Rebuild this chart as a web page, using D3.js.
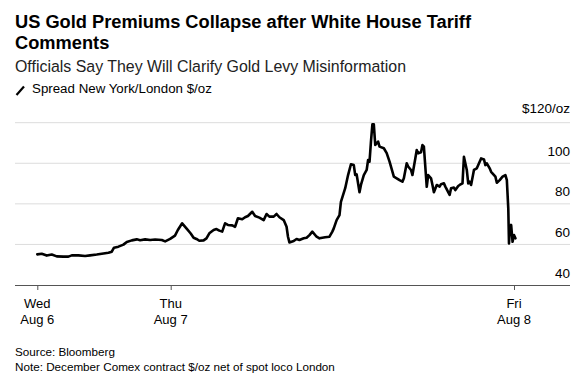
<!DOCTYPE html>
<html>
<head>
<meta charset="utf-8">
<script src="https://cdn.jsdelivr.net/npm/d3@7/dist/d3.min.js"></script>
<style>
  html, body { margin: 0; padding: 0; background: #fff; }
  svg { display: block; }
  text { font-family: "Liberation Sans", Arial, sans-serif; }
</style>
</head>
<body>
<svg id="chart" width="588" height="387"></svg>
<script>
// ---- Data (hours since Wed Aug 6 00:00, spread $/oz) ----
const hours = [0,0.8,1.7,2.6,3.5,4.7,5.6,6.2,7.4,8.6,9.5,10.7,11.6,12.8,13.4,13.8,14.6,15.5,16.1,17.0,17.9,18.5,19.4,20.3,21.2,22.4,23.0,23.9,
  24.3,24.5,24.8,25.1,25.4,25.6,25.8,26.0,26.3,26.5,26.7,27.0,27.2,27.4,27.6,27.8,28.0,28.3,28.5,28.7,29.0,29.2,29.4,29.7,29.9,30.2,30.5,30.7,30.9,31.2,31.4,31.6,31.9,32.1,32.2,32.3,32.6,32.8,33.0,33.3,33.5,33.7,33.9,34.2,34.4,34.8,35.1,35.3,35.4,35.6,35.8,35.9,36.2,36.4,36.6,36.8,36.9,37.0,37.2,37.3,37.5,37.7,37.8,37.9,38.0,38.1,38.2,38.3,38.5,38.6,38.9,39.1,39.3,39.6,39.8,40.0,40.2,40.3,40.5,40.6,40.8,40.9,41.1,41.2,41.3,41.5,41.6,41.7,41.9,42.0,42.2,42.3,42.4,42.6,42.8,42.9,43.1,43.2,43.5,43.6,43.8,43.9,44.1,44.2,44.4,44.5,44.7,44.8,44.9,45.0,45.2,45.4,45.6,45.7,45.9,46.0,46.1,46.3,46.4,46.7,46.8,47.0,47.2,47.4,47.5,47.6,47.65,47.7,47.8,47.9,48.0,48.1];
const spread = [55.1,55.4,54.5,55.0,54.1,54.0,54.0,54.6,54.6,54.3,54.6,55.0,55.4,55.9,56.4,58.4,58.9,59.9,61.2,62.0,62.5,62.1,62.5,62.2,62.4,62.2,61.5,62.7,
  64.3,67.1,70.4,67.9,65.4,63.3,62.7,61.8,62.0,63.0,65.5,67.1,67.6,66.8,66.3,70.4,69.6,69.4,68.7,72.9,72.4,73.4,74.0,76.1,74.0,73.2,72.0,75.0,73.7,73.7,75.0,73.4,72.0,68.7,63.8,61.0,61.7,62.7,62.2,63.0,63.3,64.6,66.3,63.8,63.0,63.5,63.8,66.3,67.9,72.0,74.4,81.0,87.7,94.2,99.5,99.1,94.2,94.5,85.7,89.3,94.2,96.7,101.6,100.8,110.7,119.2,119.2,109.0,110.7,108.2,107.4,105.0,100.8,93.4,92.6,91.7,90.9,92.6,100.0,98.4,96.7,94.2,102.4,106.5,104.9,105.4,109.0,108.2,88.4,94.2,92.6,89.3,85.7,89.3,88.5,89.7,90.1,88.5,84.4,87.7,88.0,86.8,88.8,89.3,90.1,103.2,96.7,90.1,90.9,89.3,96.7,97.5,100.8,102.4,101.9,99.1,100.0,97.5,95.8,93.4,90.4,91.7,93.4,94.2,91.7,77.8,60.5,67.1,69.6,61.3,64.6,63.0];

const xTickHours = [0, 24, 48];
const xTickDays = ["Wed", "Thu", "Fri"];
const xTickDates = ["Aug 6", "Aug 7", "Aug 8"];
const yTicks = [40, 60, 80, 100, 120];

const title1 = "US Gold Premiums Collapse after White House Tariff";
const title2 = "Comments";
const subtitle = "Officials Say They Will Clarify Gold Levy Misinformation";
const legendLabel = "Spread New York/London $/oz";
const sourceText = "Source: Bloomberg";
const noteText = "Note: December Comex contract $/oz net of spot loco London";

// ---- Layout ----
const svg = d3.select("#chart");
const plotLeft = 15, plotRight = 570;

// Polylinear x scale (trading-time compressed axis)
const x = d3.scaleLinear().domain([0, 24, 48]).range([37.3, 170.7, 514]);
const y = d3.scaleLinear().domain([40, 120]).range([285, 122.7]);

// fit text helper
function fit(sel, targetW) {
  const w = sel.node().getComputedTextLength();
  const fs = parseFloat(sel.attr("font-size"));
  sel.attr("font-size", (fs * targetW / w).toFixed(2));
}

// Title
const t1 = svg.append("text").attr("x", 15).attr("y", 27.7)
  .attr("font-size", 17).attr("font-weight", "bold").attr("fill", "#000").text(title1);
fit(t1, 456);
svg.append("text").attr("x", 15).attr("y", 48.5)
  .attr("font-size", t1.attr("font-size")).attr("font-weight", "bold").attr("fill", "#000").text(title2);

const st = svg.append("text").attr("x", 15).attr("y", 71.7)
  .attr("font-size", 15).attr("fill", "#222").text(subtitle);
fit(st, 391);

// Legend
svg.append("line").attr("x1", 16.5).attr("y1", 95).attr("x2", 24).attr("y2", 86.5)
  .attr("stroke", "#000").attr("stroke-width", 2.2);
const lg = svg.append("text").attr("x", 32).attr("y", 93.3)
  .attr("font-size", 13).attr("fill", "#000").text(legendLabel);
fit(lg, 180);

// Gridlines
const gridVals = yTicks.filter(v => v !== 40);
svg.append("g").selectAll("line").data(gridVals).join("line")
  .attr("x1", plotLeft).attr("x2", plotRight)
  .attr("y1", d => y(d)).attr("y2", d => y(d))
  .attr("stroke", "#dcdcdc").attr("stroke-width", 1);

// Y labels
svg.append("g").selectAll("text").data(yTicks).join("text")
  .attr("x", plotRight).attr("y", d => y(d) - (d === 120 ? 9.5 : 7.5))
  .attr("text-anchor", "end").attr("font-size", 13.5).attr("fill", "#000")
  .text(d => d === 120 ? "$120/oz" : d);

// X axis
const xAxis = d3.axisBottom(x).tickValues(xTickHours).tickSize(5).tickFormat("");
const gx = svg.append("g").attr("transform", "translate(0,285)").call(xAxis);
gx.select(".domain").remove();
gx.selectAll(".tick line").attr("stroke", "#555");
svg.append("line").attr("x1", plotLeft).attr("x2", plotRight).attr("y1", 285.5).attr("y2", 285.5)
  .attr("stroke", "#555").attr("stroke-width", 1);

svg.append("g").selectAll("text").data(xTickHours).join("text")
  .attr("x", d => x(d)).attr("y", 307.5).attr("text-anchor", "middle")
  .attr("font-size", 13).attr("fill", "#000").text((d, i) => xTickDays[i]);
svg.append("g").selectAll("text").data(xTickHours).join("text")
  .attr("x", d => x(d)).attr("y", 324).attr("text-anchor", "middle")
  .attr("font-size", 13).attr("fill", "#000").text((d, i) => xTickDates[i]);

// Line
const data = hours.map((h, i) => ({h, v: spread[i]}));
svg.append("path").datum(data)
  .attr("fill", "none").attr("stroke", "#000").attr("stroke-width", 2.6)
  .attr("stroke-linejoin", "round").attr("stroke-linecap", "round")
  .attr("d", d3.line().x(d => x(d.h)).y(d => y(d.v)));

// Footer
svg.append("text").attr("x", 15).attr("y", 356).attr("font-size", 12).attr("fill", "#000").text(sourceText);
const nt = svg.append("text").attr("x", 15).attr("y", 371).attr("font-size", 12).attr("fill", "#000").text(noteText);
fit(nt, 320);
svg.selectAll("text").filter(function() { return d3.select(this).text() === sourceText; })
  .attr("font-size", nt.attr("font-size"));
</script>
</body>
</html>
